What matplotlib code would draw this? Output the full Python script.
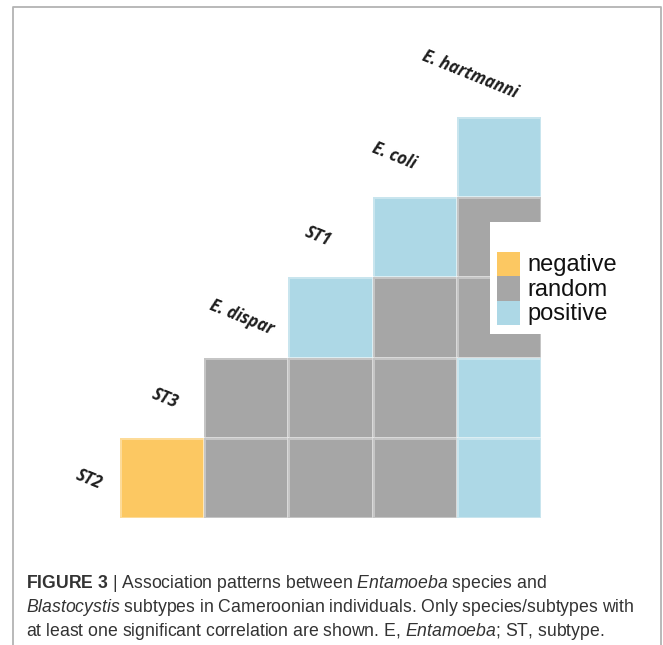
import matplotlib
matplotlib.use("Agg")
import matplotlib.pyplot as plt
import numpy as np
from matplotlib.colors import ListedColormap, BoundaryNorm
from matplotlib.patches import Rectangle
from matplotlib.lines import Line2D

# ---------------- data ----------------
variables = ["ST2", "ST3", "E. dispar", "ST1", "E. coli", "E. hartmanni"]
categories = ["negative", "random", "positive"]
category_codes = [-1, 0, 1]
category_colors = ["#FCC862", "#A6A6A6", "#ADD8E6"]
nan = np.nan
# rows top -> bottom, columns left -> right; -1 negative, 0 random, 1 positive
association = [
    [nan, nan, nan, nan, 1],
    [nan, nan, nan, 1, 0],
    [nan, nan, 1, 0, 0],
    [nan, 0, 0, 0, 1],
    [-1, 0, 0, 0, 1],
]
caption_lines = [
    r"$\mathbf{FIGURE\ 3}$ | Association patterns between $\mathit{Entamoeba}$ species and",
    r"$\mathit{Blastocystis}$ subtypes in Cameroonian individuals. Only species/subtypes with",
    r"at least one significant correlation are shown. E, $\mathit{Entamoeba}$; ST, subtype.",
]

# ---------------- figure ----------------
W, H = 663, 645
plt.rcParams["mathtext.fontset"] = "custom"
plt.rcParams["mathtext.rm"] = "Liberation Sans"
plt.rcParams["mathtext.it"] = "Liberation Sans:italic"
plt.rcParams["mathtext.bf"] = "Liberation Sans:bold"
fig = plt.figure(figsize=(W / 100, H / 100), dpi=100)
fig.patch.set_facecolor("white")

def fx(px):
    return px / W

def fy(py):
    return 1 - py / H

# outer frame (open at bottom)
fig.add_artist(Line2D([fx(12.5), fx(12.5), fx(660.5), fx(660.5)],
                      [fy(H + 5), fy(6.5), fy(6.5), fy(H + 5)],
                      transform=fig.transFigure, color="#b3b3b3", lw=1.3))

# heatmap axes
left, right, top, bottom = 120, 541, 117.3, 517.7
ax = fig.add_axes([fx(left), fy(bottom), fx(right - left), (bottom - top) / H])
mat = np.ma.masked_invalid(np.array(association, dtype=float))
cmap = ListedColormap(category_colors)
norm = BoundaryNorm([-1.5, -0.5, 0.5, 1.5], cmap.N)
ax.pcolormesh(np.arange(6), np.arange(6), mat, cmap=cmap, norm=norm,
              edgecolors=(1, 1, 1, 0.35), linewidth=0.8)
ax.set_xlim(0, 5)
ax.set_ylim(5, 0)
ax.axis("off")

# diagonal variable labels
for k, lab in enumerate(variables):
    ax.text(0.906 * k - 0.37, 4.52 - 1.01 * k, lab, rotation=-22, ha="center", va="center",
            fontsize=12, fontstyle="italic", fontweight="bold",
            family=["Open Sans", "DejaVu Sans"], color="#1e1e1e", clip_on=False)

# legend
fig.add_artist(Rectangle((fx(490), fy(334)), fx(628 - 490), (334 - 222) / H,
                         transform=fig.transFigure, facecolor="white", edgecolor="none"))
py0 = 252
ph = 24.4
for i, (cat, col) in enumerate(zip(categories, category_colors)):
    y_top = py0 + i * ph
    fig.add_artist(Rectangle((fx(497), fy(y_top + ph)), fx(23), ph / H,
                             transform=fig.transFigure, facecolor=col, edgecolor="none"))
    fig.text(fx(527), fy(y_top + ph / 2 + 1), cat, ha="left", va="center",
             fontsize=17, family="Liberation Sans", color="#111111")

# caption
for i, line in enumerate(caption_lines):
    fig.text(fx(26), fy(588.5 + i * 24), line, ha="left", va="baseline",
             fontsize=12.7, family="Liberation Sans", color="#333333")

fig.savefig("out.png", dpi=100, facecolor="white")
